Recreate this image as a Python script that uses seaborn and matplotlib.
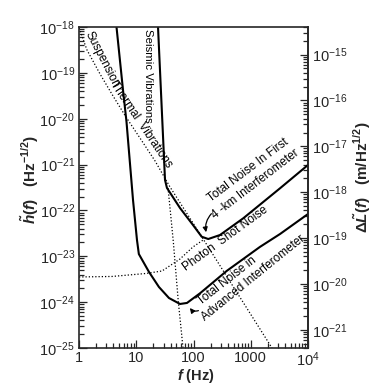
import numpy as np
import pandas as pd
import matplotlib
matplotlib.use("Agg")
import matplotlib.pyplot as plt
import seaborn as sns

ARM_M = 4000.0   # 4-km arms, dL = h * L

# noise curves: f in Hz, h in Hz^-1/2
adv_f = [4.52, 5.87, 6.76, 8.78, 10.3, 11.1, 16.7, 24.9, 37.3, 58.1, 76.9, 130, 380, 1446, 3245, 10000]
adv_h = [1e-18, 4.23e-20, 8.5e-21, 1.69e-22, 2.26e-23, 1.12e-23, 4.55e-24, 2.14e-24,
         1.23e-24, 9.12e-25, 9.6e-25, 1.56e-24, 4.79e-24, 1.6e-23, 3.06e-23, 8.36e-23]

first_f = [24.0, 31.8, 34.4, 58.1, 98, 139, 181, 290, 741, 3245, 10000]
first_h = [1e-18, 4.61e-22, 3.09e-22, 1.13e-22, 4.81e-23, 2.67e-23, 2.38e-23, 2.91e-23,
           6.75e-23, 3.04e-22, 9.8e-22]

thermal_f = [1.0, 1.38, 2.33, 3.93, 6.62, 11.6, 21.3, 38.9, 130, 552, 2350]
thermal_h = [9.5e-19, 3.15e-19, 9.44e-20, 3.13e-20, 1.09e-20, 3.8e-21, 1.2e-21, 3.24e-22,
             3.06e-23, 1.75e-24, 1e-25]

seismic_f = [35.9, 44.4, 54.3, 65.6]
seismic_h = [3.09e-22, 2.09e-23, 1.02e-24, 1e-25]

shot_f = [1.0, 3.77, 14.8, 28.2, 58.1, 98, 147]
shot_h = [3.54e-24, 3.63e-24, 4.22e-24, 4.78e-24, 8.73e-24, 1.6e-23, 2.26e-23]

x_ticks = [1, 10, 100, 1000, 10000]
x_labels = ["1", "10", "100", "1000", r"$\mathdefault{10^4}$"]
y_exps = list(range(-25, -17))
dl_exps = list(range(-21, -14))

sns.set_style("ticks")
plt.rcParams["font.family"] = ["Liberation Sans", "DejaVu Sans"]
plt.rcParams["mathtext.fontset"] = "custom"
plt.rcParams["mathtext.rm"] = "Liberation Sans:bold"
plt.rcParams["mathtext.it"] = "Liberation Sans:italic:bold"
plt.rcParams["mathtext.bf"] = "Liberation Sans:bold"

fig = plt.figure(figsize=(3.84, 3.90), dpi=100)
ax = fig.add_axes([79/384, 1 - 348/390, 229/384, 321/390])
ax.set_xscale("log")
ax.set_yscale("log")

solid = dict(color="black", lw=1.5, sort=False, estimator=None, legend=False)
dotted = dict(color="black", lw=0.9, sort=False, estimator=None, legend=False,
              linestyle=(0, (1, 1.6)))
curves = [(adv_f, adv_h, solid), (first_f, first_h, solid),
          (thermal_f, thermal_h, dotted), (seismic_f, seismic_h, dotted),
          (shot_f, shot_h, dotted)]
for fx, hy, kw in curves:
    df = pd.DataFrame({"f": fx, "h": hy})
    sns.lineplot(data=df, x="f", y="h", ax=ax, **kw)

ax.set_xlim(1, 1e4)
ax.set_ylim(1e-25, 1e-18)
ax.set_xlabel("")
ax.set_ylabel("")
ax.set_xticks(x_ticks, x_labels)
ax.set_yticks([10.0**e for e in y_exps],
              [r"$\mathdefault{10^{%d}}$" % e for e in y_exps])
ax.tick_params(which="both", direction="in", top=False, right=False, labelsize=10.5, width=0.9)
ax.tick_params(which="major", length=6)
ax.tick_params(which="minor", length=3.5)
ax.tick_params(axis="x", pad=2)
ax.tick_params(axis="y", pad=3)
for sp in ax.spines.values():
    sp.set_linewidth(1.2)

sec = ax.secondary_yaxis("right", functions=(lambda h: h * ARM_M, lambda d: d / ARM_M))
sec.set_yticks([10.0**e for e in dl_exps],
               [r"$\mathdefault{10^{%d}}$" % e for e in dl_exps])
sec.tick_params(which="both", direction="in", labelsize=10.5, width=0.9, pad=3)
sec.tick_params(which="major", length=6)
sec.tick_params(which="minor", length=3.5)
sec.spines["right"].set_linewidth(1.2)

# curve labels, placed beside their curves as in the scan
txt = dict(family=["Liberation Sans Narrow", "Liberation Sans"], fontsize=8.5,
           ha="center", va="center", rotation_mode="anchor", color="black")
ax.text(2.55, 1.95e-19, "Suspension", rotation=-62.7, **txt)
ax.text(12.3, 7.6e-21, "Thermal  Vibrations", rotation=-56, **txt)
ax.text(16.2, 8.6e-20, "Seismic Vibrations", rotation=-90, fontsize=8.2,
        **{k: v for k, v in txt.items() if k != "fontsize"})
ax.text(914, 7.43e-22, "Total Noise In First", rotation=37, **txt)
ax.text(1186, 3.78e-22, "4 -km Interferometer", rotation=37.5, **txt)
ax.text(355, 2.38e-23, "Photon  Shot Noise", rotation=36, **txt)
ax.text(393, 2.89e-24, "Total Noise in", rotation=38, **txt)
ax.text(1094, 3.28e-24, "Advanced Interferometer", rotation=39, **txt)

arrow = dict(arrowstyle="-|>", color="black", lw=0.9, mutation_scale=7)
ax.annotate("", xy=(170, 2.92e-23), xytext=(222, 9.38e-23),
            arrowprops=dict(connectionstyle="arc3,rad=0.3", **arrow))
ax.annotate("", xy=(81.2, 8.37e-25), xytext=(135, 6.9e-25),
            arrowprops=dict(connectionstyle="arc3,rad=-0.5", **arrow))

fig.text(30/384, 1 - 180/390, r"$\tilde{h}(f)$   (Hz$^{\mathdefault{-1/2}}$)",
         rotation=90, ha="center", va="center", fontsize=11, fontweight="bold")
fig.text(362/384, 1 - 177/390, r"$\Delta\tilde{L}(f)$   (m/Hz$^{\mathdefault{1/2}}$)",
         rotation=90, ha="center", va="center", fontsize=11, fontweight="bold")
fig.text(196/384, 1 - 376/390, r"$f$ (Hz)", ha="center", va="center",
         fontsize=10.5, fontweight="bold")

fig.savefig("out.png", dpi=100, facecolor="white")
